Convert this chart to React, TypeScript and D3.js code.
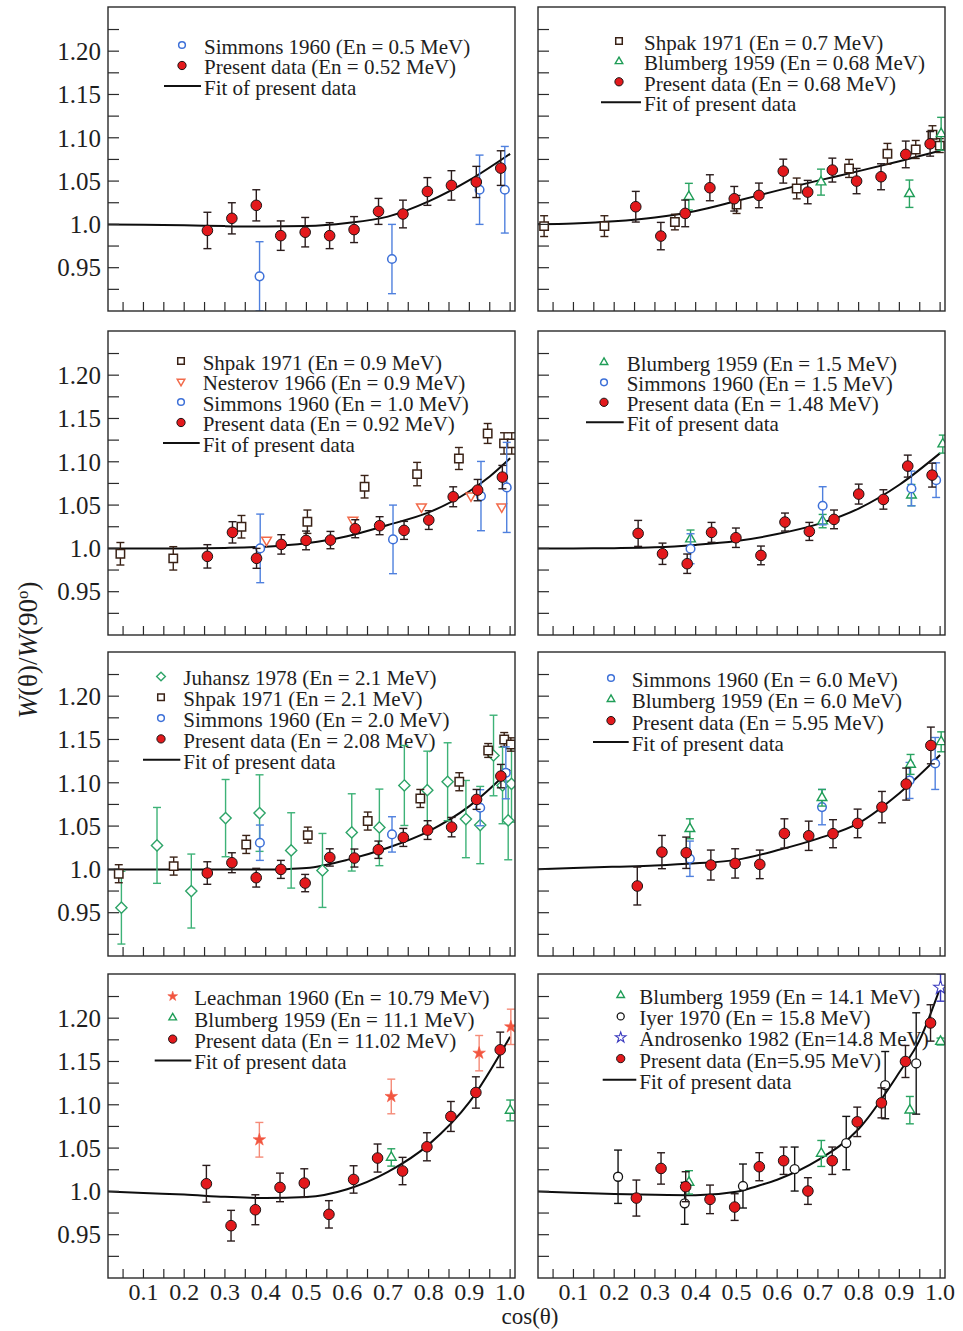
import React from 'react';
import * as d3 from 'd3';

type Pt = [number, number, number]; // cos(theta), W ratio, error
type FP = [number, number];

// ---------- tick labels ----------
const xTickValues = [0.1, 0.2, 0.3, 0.4, 0.5, 0.6, 0.7, 0.8, 0.9, 1.0];
const xTickLabels = ['0.1', '0.2', '0.3', '0.4', '0.5', '0.6', '0.7', '0.8', '0.9', '1.0'];
const yTickValues = [0.95, 1.0, 1.05, 1.1, 1.15, 1.2];
const yTickLabels = ['0.95', '1.0', '1.05', '1.10', '1.15', '1.20'];

// ---------- Panel 1 (En = 0.52 MeV) ----------
const p1Simmons: Pt[] = [[0.385, 0.94, 0.04], [0.71, 0.96, 0.04], [0.925, 1.04, 0.04], [0.987, 1.04, 0.05]];
const p1Present: Pt[] = [
  [0.257, 0.993, 0.021], [0.317, 1.007, 0.018], [0.377, 1.022, 0.018], [0.437, 0.987, 0.017],
  [0.497, 0.991, 0.017], [0.557, 0.987, 0.015], [0.617, 0.994, 0.015], [0.677, 1.015, 0.015],
  [0.737, 1.012, 0.016], [0.797, 1.038, 0.016], [0.856, 1.045, 0.017], [0.917, 1.049, 0.018],
  [0.977, 1.065, 0.02]];
const p1Fit: FP[] = [[0, 1.0], [0.1, 0.9996], [0.2, 0.999], [0.3, 0.998], [0.4, 0.9975], [0.5, 0.998],
  [0.6, 1.0015], [0.7, 1.009], [0.8, 1.0265], [0.9, 1.051], [1.0, 1.0815]];

// ---------- Panel 2 (En = 0.68 MeV) ----------
const p2Shpak: Pt[] = [
  [0.028, 0.998, 0.012], [0.176, 0.998, 0.012], [0.349, 1.0027, 0.009], [0.5004, 1.023, 0.0104],
  [0.648, 1.0415, 0.012], [0.7765, 1.0646, 0.0104], [0.8707, 1.0815, 0.012], [0.9402, 1.0865, 0.0104],
  [0.9812, 1.1035, 0.0104], [0.9992, 1.091, 0.008]];
const p2Blumberg: Pt[] = [[0.3833, 1.032, 0.0154], [0.7077, 1.0488, 0.015], [0.9247, 1.0354, 0.0158], [1.0025, 1.1046, 0.019]];
const p2Present: Pt[] = [
  [0.253, 1.0204, 0.0177], [0.3145, 0.9865, 0.0158], [0.3743, 1.0127, 0.0154], [0.4349, 1.0423, 0.015],
  [0.4947, 1.0296, 0.0142], [0.5553, 1.0335, 0.0142], [0.615, 1.0615, 0.0138], [0.675, 1.0373, 0.0135],
  [0.7355, 1.0627, 0.0138], [0.795, 1.05, 0.0146], [0.855, 1.055, 0.015], [0.9157, 1.0808, 0.0154],
  [0.9755, 1.093, 0.0142]];
const p2Fit: FP[] = [[0, 1.0], [0.1, 1.001], [0.2, 1.0035], [0.3, 1.008], [0.4, 1.0155], [0.5, 1.027],
  [0.6, 1.039], [0.7, 1.0505], [0.8, 1.0615], [0.9, 1.073], [1.0, 1.085]];

// ---------- Panel 3 (En = 0.92 MeV) ----------
const p3Shpak: Pt[] = [
  [0.0434, 0.9938, 0.013], [0.1732, 0.9885, 0.0135], [0.3406, 1.025, 0.013], [0.5024, 1.0308, 0.0135],
  [0.6428, 1.0712, 0.013], [0.7717, 1.0858, 0.0135], [0.8743, 1.1038, 0.0127], [0.9449, 1.1327, 0.0115],
  [0.9851, 1.1212, 0.0123], [1.004, 1.1212, 0.0123]];
const p3Nesterov: Pt[] = [[0.4022, 1.0096, 0], [0.614, 1.0327, 0], [0.7823, 1.0481, 0], [0.9039, 1.0608, 0], [0.9794, 1.0481, 0]];
const p3Simmons: Pt[] = [[0.3866, 1.0, 0.0396], [0.7126, 1.0104, 0.0396], [0.9285, 1.0604, 0.04], [0.9917, 1.0704, 0.052]];
const p3Present: Pt[] = [
  [0.2569, 0.9908, 0.0135], [0.3185, 1.0185, 0.0123], [0.3776, 0.9885, 0.0115], [0.4383, 1.0046, 0.0112],
  [0.4991, 1.0092, 0.0108], [0.559, 1.0096, 0.01], [0.6198, 1.0227, 0.0104], [0.6797, 1.0262, 0.0104],
  [0.7397, 1.0208, 0.0104], [0.8004, 1.0327, 0.0108], [0.8603, 1.0596, 0.0115], [0.9203, 1.0673, 0.0123],
  [0.981, 1.0823, 0.0135]];
const p3Fit: FP[] = [[0, 1.0], [0.1, 1.0], [0.2, 1.0], [0.3, 1.0005], [0.4, 1.002], [0.5, 1.006],
  [0.6, 1.014], [0.7, 1.027], [0.8, 1.0415], [0.9, 1.066], [0.95, 1.083], [1.0, 1.104]];

// ---------- Panel 4 (En = 1.48 MeV) ----------
const p4Blumberg: Pt[] = [[0.3874, 1.0108, 0.0104], [0.7117, 1.0315, 0.0077], [0.9296, 1.0615, 0.0123], [1.0066, 1.1204, 0.0104]];
const p4Simmons: Pt[] = [[0.3874, 0.9996, 0.0173], [0.7117, 1.0492, 0.022], [0.9296, 1.0692, 0.02], [0.9902, 1.0788, 0.02]];
const p4Present: Pt[] = [
  [0.2588, 1.0173, 0.015], [0.3186, 0.9938, 0.0123], [0.3792, 0.9823, 0.0112], [0.439, 1.0185, 0.0115],
  [0.4988, 1.0123, 0.0112], [0.5602, 0.9919, 0.0108], [0.6192, 1.0304, 0.0104], [0.679, 1.0196, 0.0104],
  [0.7396, 1.0335, 0.0108], [0.8002, 1.0627, 0.0115], [0.8608, 1.0565, 0.0112], [0.9206, 1.095, 0.0127],
  [0.9803, 1.0846, 0.0138]];
const p4Fit: FP[] = [[0, 1.0], [0.1, 1.0], [0.2, 1.0003], [0.3, 1.0012], [0.4, 1.004], [0.5, 1.0085],
  [0.6, 1.0165], [0.7, 1.028], [0.8, 1.046], [0.9, 1.0735], [1.0, 1.11]];

// ---------- Panel 5 (En = 2.08 MeV) ----------
const p5Juhansz: Pt[] = [
  [0.0459, 0.9558, 0.042], [0.1333, 1.0277, 0.0438], [0.2175, 0.975, 0.0427], [0.3016, 1.0592, 0.0446],
  [0.385, 1.065, 0.0442], [0.4626, 1.0219, 0.0435], [0.5394, 0.9988, 0.0427], [0.6113, 1.0427, 0.0446],
  [0.6791, 1.0485, 0.0442], [0.7404, 1.0969, 0.0462], [0.7967, 1.0915, 0.045], [0.8466, 1.1012, 0.045],
  [0.8915, 1.0581, 0.0446], [0.9266, 1.0512, 0.0446], [0.9593, 1.1315, 0.0465], [0.9814, 1.0969, 0.0442],
  [0.9953, 1.0565, 0.0454], [1.0034, 1.0988, 0.0442]];
const p5Shpak: Pt[] = [
  [0.0394, 0.995, 0.0104], [0.1742, 1.0038, 0.0104], [0.3523, 1.0288, 0.0104], [0.5034, 1.0396, 0.0092],
  [0.6505, 1.0558, 0.0104], [0.7796, 1.0819, 0.0104], [0.8752, 1.1012, 0.0104], [0.9462, 1.1373, 0.008],
  [0.9855, 1.15, 0.008], [1.0018, 1.1442, 0.0077]];
const p5Simmons: Pt[] = [[0.3858, 1.0308, 0.0204], [0.7101, 1.0404, 0.0204], [0.9266, 1.0712, 0.0208], [0.9895, 1.1115, 0.03]];
const p5Present: Pt[] = [
  [0.2567, 0.9958, 0.013], [0.3171, 1.0077, 0.0115], [0.3768, 0.9904, 0.0108], [0.4373, 1.0, 0.0104],
  [0.4969, 0.9842, 0.01], [0.5574, 1.0138, 0.01], [0.6178, 1.0131, 0.0104], [0.6766, 1.0227, 0.01],
  [0.7379, 1.0369, 0.0104], [0.7975, 1.0454, 0.0108], [0.8564, 1.0488, 0.0112], [0.9177, 1.0808, 0.0115],
  [0.9773, 1.1077, 0.0135]];
const p5Fit: FP[] = [[0, 1.0], [0.1, 1.0], [0.2, 1.0], [0.3, 1.0], [0.4, 1.0], [0.45, 1.0003], [0.5, 1.0015],
  [0.6, 1.011], [0.7, 1.025], [0.8, 1.044], [0.9, 1.073], [1.0, 1.115]];

// ---------- Panel 6 (En = 5.95 MeV) ----------
const p6Simmons: Pt[] = [[0.3858, 1.0123, 0.0204], [0.7101, 1.0719, 0.0204], [0.925, 1.1027, 0.0208], [0.9879, 1.1223, 0.03]];
const p6Blumberg: Pt[] = [[0.3858, 1.0469, 0.0115], [0.7101, 1.0827, 0.0096], [0.9275, 1.1212, 0.0115], [1.0026, 1.1473, 0.0115]];
const p6Present: Pt[] = [
  [0.2567, 0.9808, 0.0219], [0.3172, 1.02, 0.0192], [0.3768, 1.0192, 0.0181], [0.4373, 1.005, 0.0173],
  [0.4969, 1.0069, 0.0169], [0.5574, 1.0058, 0.0165], [0.6178, 1.0415, 0.0169], [0.6775, 1.0388, 0.0169],
  [0.7371, 1.0412, 0.0162], [0.7975, 1.0531, 0.0165], [0.8572, 1.0719, 0.0181], [0.9168, 1.0985, 0.0185],
  [0.9773, 1.1431, 0.0212]];
const p6Fit: FP[] = [[0, 1.0], [0.1, 1.0015], [0.2, 1.003], [0.3, 1.0045], [0.4, 1.007], [0.5, 1.011],
  [0.6, 1.022], [0.7, 1.0355], [0.8, 1.0535], [0.9, 1.088], [1.0, 1.132]];

// ---------- Panel 7 (En = 11.02 MeV) ----------
const p7Leachman: Pt[] = [[0.3845, 1.0596, 0.02], [0.7083, 1.1096, 0.02], [0.924, 1.1596, 0.0204], [1.0018, 1.19, 0.0204]];
const p7Blumberg: Pt[] = [[0.7083, 1.0392, 0.01], [1.0002, 1.0935, 0.012]];
const p7Present: Pt[] = [
  [0.2545, 1.0088, 0.0212], [0.315, 0.9604, 0.0177], [0.3747, 0.9788, 0.0173], [0.4352, 1.0046, 0.0165],
  [0.4948, 1.0096, 0.0165], [0.5553, 0.9735, 0.0158], [0.6158, 1.0138, 0.0158], [0.6747, 1.0385, 0.0162],
  [0.736, 1.0235, 0.0158], [0.7958, 1.0515, 0.0162], [0.8546, 1.0865, 0.0173], [0.916, 1.1142, 0.0181],
  [0.9757, 1.1635, 0.0204]];
const p7Fit: FP[] = [[0, 1.0], [0.1, 0.998], [0.2, 0.9963], [0.3, 0.9938], [0.4, 0.9923], [0.5, 0.9935],
  [0.6, 1.0025], [0.7, 1.0225], [0.8, 1.054], [0.9, 1.103], [1.0, 1.1785]];

// ---------- Panel 8 (En = 14 MeV region) ----------
const p8Blumberg: Pt[] = [[0.3836, 1.0104, 0.0135], [0.7083, 1.0438, 0.015], [0.9257, 1.0938, 0.0158], [1.001, 1.173, 0.004]];
const p8Iyer: Pt[] = [
  [0.2095, 1.0169, 0.0308], [0.373, 0.9862, 0.0242], [0.5161, 1.0062, 0.0254], [0.643, 1.0258, 0.0254],
  [0.7696, 1.0558, 0.0308], [0.8652, 1.1227, 0.0388], [0.9413, 1.1477, 0.0585]];
const p8Androsenko: Pt[] = [[1.001, 1.2354, 0.0158]];
const p8Present: Pt[] = [
  [0.2545, 0.9923, 0.0208], [0.315, 1.0265, 0.0181], [0.3755, 1.0054, 0.0173], [0.4352, 0.9908, 0.0165],
  [0.4957, 0.9819, 0.0154], [0.5562, 1.0285, 0.0162], [0.6159, 1.0354, 0.0158], [0.6755, 1.0004, 0.0154],
  [0.7352, 1.0354, 0.0158], [0.7966, 1.0803, 0.017], [0.856, 1.1022, 0.0173], [0.915, 1.15, 0.0185],
  [0.9765, 1.1945, 0.021]];
const p8Fit: FP[] = [[0, 1.0], [0.1, 0.9985], [0.2, 0.997], [0.3, 0.996], [0.4, 0.9955], [0.5, 0.9995],
  [0.55, 1.006], [0.6, 1.0135], [0.7, 1.036], [0.8, 1.072], [0.9, 1.1375], [0.95, 1.175], [1.0, 1.235]];

// ---------- styles ----------
type Kind = 'present' | 'simmons' | 'shpak' | 'blumberg' | 'nesterov' | 'juhansz' | 'leachman' | 'iyer' | 'androsenko';
const STYLES: Record<Kind, { shape: string; fill: string; stroke: string; err: string; r: number; sw: number }> = {
  present: { shape: 'circle', fill: '#e3191c', stroke: '#1c1414', err: '#2a1c1c', r: 5.3, sw: 1 },
  simmons: { shape: 'circle', fill: '#ffffff', stroke: '#3d70d8', err: '#4f80de', r: 4.3, sw: 1.5 },
  shpak: { shape: 'square', fill: '#ffffff', stroke: '#3a2216', err: '#3a2216', r: 4.2, sw: 1.5 },
  blumberg: { shape: 'triangle', fill: '#ffffff', stroke: '#1f9d57', err: '#2aa462', r: 5.6, sw: 1.4 },
  nesterov: { shape: 'triangleDown', fill: '#ffffff', stroke: '#f26b4b', err: '#f26b4b', r: 5.6, sw: 1.5 },
  juhansz: { shape: 'diamond', fill: '#ffffff', stroke: '#2ea468', err: '#3db277', r: 5.6, sw: 1.4 },
  leachman: { shape: 'star', fill: '#f2553f', stroke: '#f2553f', err: '#f58b78', r: 3.9, sw: 0.6 },
  iyer: { shape: 'circle', fill: '#ffffff', stroke: '#141414', err: '#141414', r: 4.5, sw: 1.3 },
  androsenko: { shape: 'star', fill: '#ffffff', stroke: '#3a3abf', err: '#3a3abf', r: 4.2, sw: 1.1 },
};

type Series = { kind: Kind; label: string; data: Pt[] };
type Panel = {
  col: number; row: number; series: Series[]; legendOrder: number[]; fit: FP[];
  legend: { mx: number; tx: number; y0: number; dy: number };
};

const PANELS: Panel[] = [
  { col: 0, row: 0, fit: p1Fit, legend: { mx: 74, tx: 96, y0: 40, dy: 20.5 },
    series: [
      { kind: 'simmons', label: 'Simmons 1960 (En = 0.5 MeV)', data: p1Simmons },
      { kind: 'present', label: 'Present data (En = 0.52 MeV)', data: p1Present }],
    legendOrder: [0, 1] },
  { col: 1, row: 0, fit: p2Fit, legend: { mx: 81, tx: 106, y0: 36, dy: 20.4 },
    series: [
      { kind: 'shpak', label: 'Shpak 1971 (En = 0.7 MeV)', data: p2Shpak },
      { kind: 'blumberg', label: 'Blumberg 1959 (En = 0.68 MeV)', data: p2Blumberg },
      { kind: 'present', label: 'Present data (En = 0.68 MeV)', data: p2Present }],
    legendOrder: [0, 1, 2] },
  { col: 0, row: 1, fit: p3Fit, legend: { mx: 73, tx: 94.7, y0: 32, dy: 20.5 },
    series: [
      { kind: 'shpak', label: 'Shpak 1971 (En = 0.9 MeV)', data: p3Shpak },
      { kind: 'nesterov', label: 'Nesterov 1966 (En = 0.9 MeV)', data: p3Nesterov },
      { kind: 'simmons', label: 'Simmons 1960 (En = 1.0 MeV)', data: p3Simmons },
      { kind: 'present', label: 'Present data (En = 0.92 MeV)', data: p3Present }],
    legendOrder: [0, 1, 2, 3] },
  { col: 1, row: 1, fit: p4Fit, legend: { mx: 66, tx: 88.7, y0: 33.3, dy: 20 },
    series: [
      { kind: 'blumberg', label: 'Blumberg 1959 (En = 1.5 MeV)', data: p4Blumberg },
      { kind: 'simmons', label: 'Simmons 1960 (En = 1.5 MeV)', data: p4Simmons },
      { kind: 'present', label: 'Present data (En = 1.48 MeV)', data: p4Present }],
    legendOrder: [0, 1, 2] },
  { col: 0, row: 2, fit: p5Fit, legend: { mx: 53, tx: 75.3, y0: 26.5, dy: 20.8 },
    series: [
      { kind: 'juhansz', label: 'Juhansz 1978 (En = 2.1 MeV)', data: p5Juhansz },
      { kind: 'shpak', label: 'Shpak 1971 (En = 2.1 MeV)', data: p5Shpak },
      { kind: 'simmons', label: 'Simmons 1960 (En = 2.0 MeV)', data: p5Simmons },
      { kind: 'present', label: 'Present data (En = 2.08 MeV)', data: p5Present }],
    legendOrder: [0, 1, 2, 3] },
  { col: 1, row: 2, fit: p6Fit, legend: { mx: 73, tx: 93.7, y0: 28, dy: 21.3 },
    series: [
      { kind: 'simmons', label: 'Simmons 1960 (En = 6.0 MeV)', data: p6Simmons },
      { kind: 'blumberg', label: 'Blumberg 1959 (En = 6.0 MeV)', data: p6Blumberg },
      { kind: 'present', label: 'Present data (En = 5.95 MeV)', data: p6Present }],
    legendOrder: [0, 1, 2] },
  { col: 0, row: 3, fit: p7Fit, legend: { mx: 64.7, tx: 86.3, y0: 24.3, dy: 21.4 },
    series: [
      { kind: 'leachman', label: 'Leachman 1960 (En = 10.79 MeV)', data: p7Leachman },
      { kind: 'blumberg', label: 'Blumberg 1959 (En = 11.1 MeV)', data: p7Blumberg },
      { kind: 'present', label: 'Present data (En = 11.02 MeV)', data: p7Present }],
    legendOrder: [0, 1, 2] },
  { col: 1, row: 3, fit: p8Fit, legend: { mx: 82.7, tx: 101.3, y0: 23.3, dy: 21.1 },
    series: [
      { kind: 'blumberg', label: 'Blumberg 1959 (En = 14.1 MeV)', data: p8Blumberg },
      { kind: 'iyer', label: 'Iyer 1970 (En = 15.8 MeV)', data: p8Iyer },
      { kind: 'androsenko', label: 'Androsenko 1982 (En=14.8 MeV)', data: p8Androsenko },
      { kind: 'present', label: 'Present data (En=5.95 MeV)', data: p8Present }],
    legendOrder: [0, 1, 2, 3] },
];

// ---------- layout ----------
const W = 963, H = 1331;
const COL_X = [108, 538];
const ROW_Y = [7, 331, 652, 974];
const PW = 407, PH = 304;
const X_DOMAIN: [number, number] = [0.013, 1.012];
const Y_DOMAIN: [number, number] = [0.9, 1.251];
const FONT = "'Liberation Serif', 'Times New Roman', serif";
const TEXT = '#1e1e1e';

const xMinor = d3.range(1, 21).map((i) => i * 0.05);
const yMinor = d3.range(0, 13).map((i) => 0.925 + i * 0.025);

function shapePath(shape: string, r: number): string {
  if (shape === 'square') return `M${-r},${-r}H${r}V${r}H${-r}Z`;
  if (shape === 'triangle') return `M0,${-r}L${r * 0.866},${r * 0.5}L${-r * 0.866},${r * 0.5}Z`;
  if (shape === 'triangleDown') return `M0,${r}L${r * 0.866},${-r * 0.5}L${-r * 0.866},${-r * 0.5}Z`;
  if (shape === 'diamond') return `M0,${-r}L${r},0L0,${r}L${-r},0Z`;
  if (shape === 'star') return d3.symbol(d3.symbolStar, r * r * 3.2)() || '';
  return '';
}

function Marker({ kind, cx, cy, scale = 1 }: { kind: Kind; cx: number; cy: number; scale?: number }) {
  const s = STYLES[kind];
  const r = s.r * scale;
  if (s.shape === 'circle') {
    return <circle cx={cx} cy={cy} r={r} fill={s.fill} stroke={s.stroke} strokeWidth={s.sw} />;
  }
  return (
    <path d={shapePath(s.shape, r)} transform={`translate(${cx},${cy})`} fill={s.fill}
      stroke={s.stroke} strokeWidth={s.sw} strokeLinejoin="miter" />
  );
}

function PanelView({ p, idx }: { p: Panel; idx: number }) {
  const left = COL_X[p.col];
  const top = ROW_Y[p.row];
  const x = d3.scaleLinear().domain(X_DOMAIN).range([left, left + PW]);
  const y = d3.scaleLinear().domain(Y_DOMAIN).range([top + PH, top]);
  const line = d3.line<FP>().x((d) => x(d[0])).y((d) => y(d[1])).curve(d3.curveMonotoneX);
  const clipId = `clip-${idx}`;
  const lg = p.legend;
  const nRows = p.legendOrder.length;
  return (
    <g>
      <defs>
        <clipPath id={clipId}>
          <rect x={left} y={top} width={PW} height={PH} />
        </clipPath>
      </defs>
      {/* legend */}
      <g fontFamily={FONT} fontSize={21} fill={TEXT}>
        {p.legendOrder.map((si, i) => {
          const s = p.series[si];
          const yy = top + lg.y0 + i * lg.dy;
          return (
            <g key={i}>
              <Marker kind={s.kind} cx={left + lg.mx} cy={yy - 2} scale={0.78} />
              <text x={left + lg.tx} y={yy} dy="0.33em">{s.label}</text>
            </g>
          );
        })}
        <line x1={left + lg.mx - 18} x2={left + lg.tx - 3} y1={top + lg.y0 + nRows * lg.dy - 2}
          y2={top + lg.y0 + nRows * lg.dy - 2} stroke="#111" strokeWidth={2} />
        <text x={left + lg.tx} y={top + lg.y0 + nRows * lg.dy} dy="0.33em">Fit of present data</text>
      </g>
      <g clipPath={`url(#${clipId})`}>
        <path d={line(p.fit) || ''} fill="none" stroke="#0d0d0d" strokeWidth={2} />
        {p.series.map((s, si) => {
          const st = STYLES[s.kind];
          return (
            <g key={si}>
              {s.data.filter((d) => d[2] > 0).map((d, j) => {
                const px = x(d[0]);
                const y1 = y(d[1] - d[2]);
                const y2 = y(d[1] + d[2]);
                return (
                  <g key={j} stroke={st.err} strokeWidth={1.4}>
                    <line x1={px} x2={px} y1={y1} y2={y2} />
                    <line x1={px - 4} x2={px + 4} y1={y1} y2={y1} />
                    <line x1={px - 4} x2={px + 4} y1={y2} y2={y2} />
                  </g>
                );
              })}
              {s.data.map((d, j) => (
                <Marker key={j} kind={s.kind} cx={x(d[0])} cy={y(d[1])} />
              ))}
            </g>
          );
        })}
      </g>
      {/* ticks */}
      <g stroke="#2a2a2a" strokeWidth={1.2}>
        {xMinor.map((v, i) => (
          <line key={`x${i}`} x1={x(v)} x2={x(v)} y1={top + PH} y2={top + PH - 9} />
        ))}
        {yMinor.map((v, i) => (
          <line key={`y${i}`} x1={left} x2={left + 11} y1={y(v)} y2={y(v)} />
        ))}
      </g>
      <rect x={left} y={top} width={PW} height={PH} fill="none" stroke="#2a2a2a" strokeWidth={1.4} />
      {p.col === 0 && (
        <g fontFamily={FONT} fontSize={25} fill={TEXT} textAnchor="end">
          {yTickValues.map((v, i) => (
            <text key={i} x={left - 7} y={y(v)} dy="0.35em">{yTickLabels[i]}</text>
          ))}
        </g>
      )}
      {p.row === 3 && (
        <g fontFamily={FONT} fontSize={24} fill={TEXT} textAnchor="middle">
          {xTickValues.map((v, i) => (
            <text key={i} x={x(v)} y={top + PH + 14} dy="0.35em">{xTickLabels[i]}</text>
          ))}
        </g>
      )}
    </g>
  );
}

export default function App() {
  return (
    <svg width={W} height={H} viewBox={`0 0 ${W} ${H}`}
      style={{ position: 'absolute', left: 0, top: 0, display: 'block', background: '#fff' }}>
      <rect x={0} y={0} width={W} height={H} fill="#fff" />
      {PANELS.map((p, i) => (
        <PanelView key={i} p={p} idx={i} />
      ))}
      <text transform="translate(37,650) rotate(-90)" textAnchor="middle" fontFamily={FONT} fontSize={27} fill={TEXT}>
        <tspan fontStyle="italic">W</tspan>(θ)/<tspan fontStyle="italic">W</tspan>(90<tspan dy="-9" fontSize={17}>o</tspan><tspan dy="9">)</tspan>
      </text>
      <text x={530} y={1324} textAnchor="middle" fontFamily={FONT} fontSize={23} fill={TEXT}>cos(θ)</text>
    </svg>
  );
}
